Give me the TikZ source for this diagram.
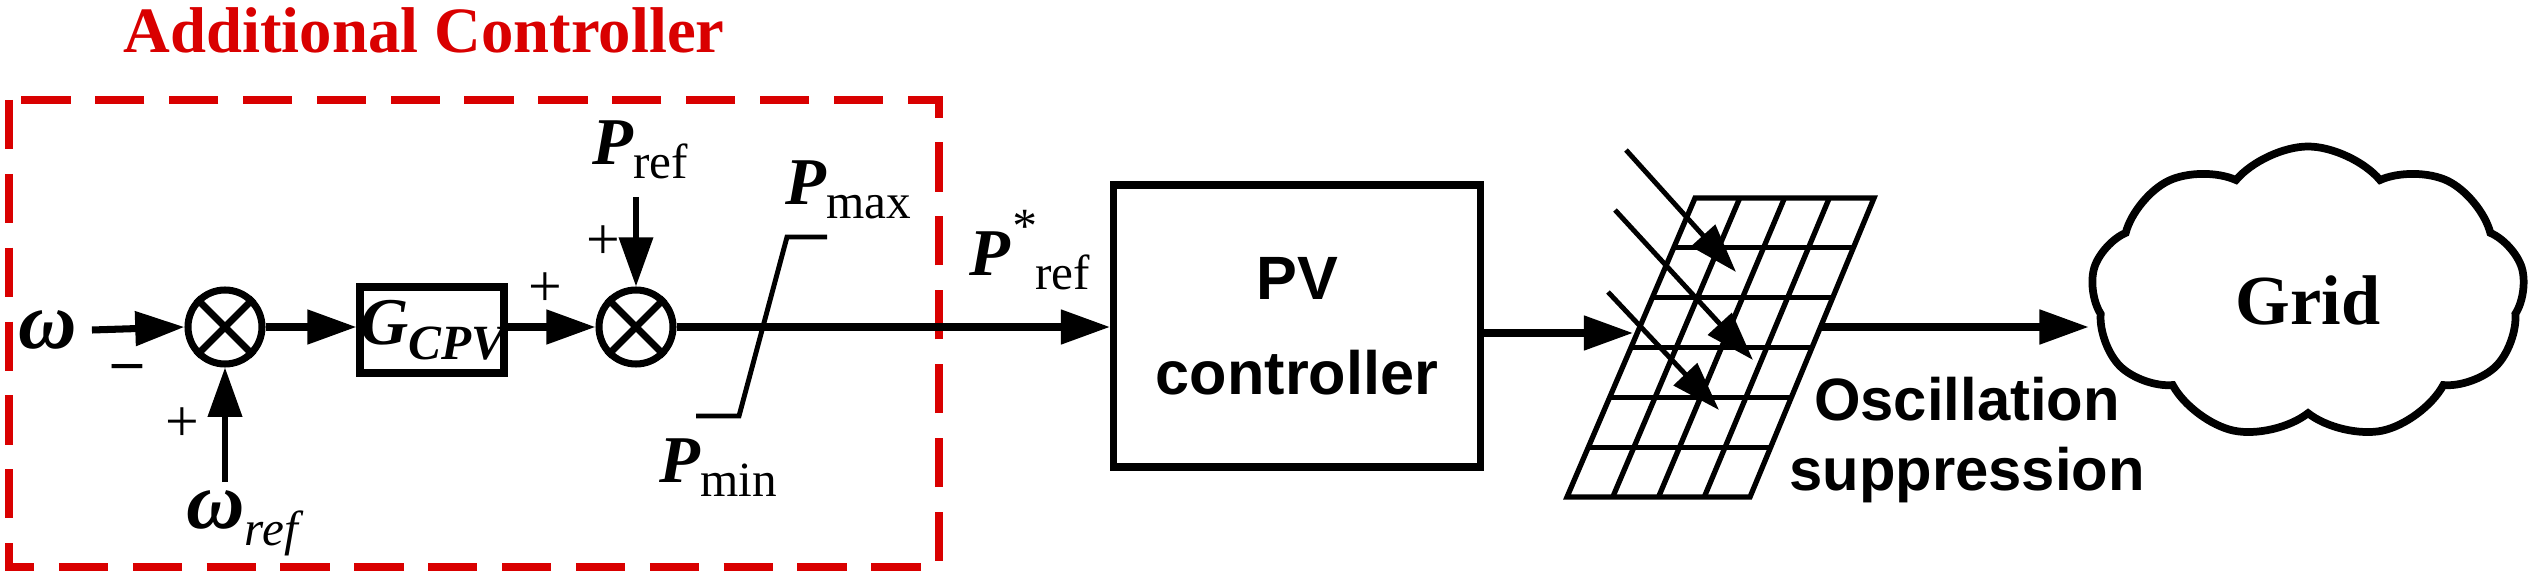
\documentclass[tikz,border=0pt]{standalone}
\usepackage{fontspec}
\setmainfont{Liberation Serif}
\newfontfamily\sansbf{Liberation Sans}
\usetikzlibrary{arrows.meta,shapes.symbols,calc}
\tikzstyle{sumnode} = [circle, draw, line width=2pt, minimum size=74\pxu, inner sep=0pt]
\tikzstyle{sig} = [line width=2pt, -{Triangle[length=14pt,width=9.5pt]}]
\tikzstyle{lbl} = [font=\fontsize{19}{19}\selectfont\bfseries\itshape, inner sep=0pt]
\newlength{\pxu}\setlength{\pxu}{0.01cm}
\newcommand{\Sub}[1]{\raisebox{-0.45ex}{\fontsize{14}{14}\selectfont\mdseries\upshape #1}}
\begin{document}
\begin{tikzpicture}[x=0.01cm,y=-0.01cm]
      \useasboundingbox (0,0) rectangle (2531,582);
      % additional controller
      \draw[red!85!black, line width=2pt, dash pattern=on 14pt off 7pt] (9,100) rectangle (939,567);
      \node[red!85!black, font=\fontsize{18.4}{18.4}\selectfont\bfseries] (Title) at (424,30) {Additional Controller};
      \node[lbl, font=\fontsize{23}{23}\selectfont\bfseries\itshape] (Omega) at (48,330) {ω};
      \node[sumnode] (SumOmega) at (225,327) {};
      \node[sumnode] (SumP) at (636,327) {};
      \foreach \s in {SumOmega,SumP}
        \draw[line width=2pt] (\s.north west) -- (\s.south east) (\s.north east) -- (\s.south west);
      \node[draw, line width=2pt, minimum width=130\pxu, minimum height=86\pxu, inner sep=0pt] (GCPV) at (432,330)
        {\fontsize{19}{19}\selectfont\bfseries\itshape G\raisebox{-0.5ex}{\fontsize{14}{14}\selectfont CPV}};
      \coordinate (OmegaIn) at (225,482);
      \coordinate (PrefIn) at (636,197);
      \node[lbl, font=\fontsize{23}{23}\selectfont\bfseries\itshape] (OmegaRef) at (242,523) {ω\Sub{\itshape ref}};
      \node[lbl] (Pref) at (640,150) {P\Sub{ref}};
      \node[font=\fontsize{17}{17}\selectfont] at (128,372) {\textbf{--}};
      \node[font=\fontsize{17}{17}\selectfont] at (182,425) {+};
      \node[font=\fontsize{17}{17}\selectfont] at (545,290) {+};
      \node[font=\fontsize{17}{17}\selectfont] at (603,243) {+};
      \draw[sig] (Omega.east) ++(14,0) coordinate (OmegaOut) -- (SumOmega.west);
      \draw[line width=1.6pt, -{Triangle[length=14pt,width=9.5pt]}] (OmegaIn) -- (SumOmega.south);
      \draw[sig] (SumOmega.east) -- (GCPV.west |- SumOmega.east);
      \draw[sig] (GCPV.east |- SumP.west) -- (SumP.west);
      \draw[line width=1.6pt, -{Triangle[length=14pt,width=9.5pt]}] (PrefIn) -- (SumP.north);
      % limiter
      \draw[line width=1.4pt] (696,416) -- (739,416) -- (787,237) -- (827,237);
      \node[lbl] (Pmax) at (848,190) {P\Sub{max}};
      \node[lbl] (Pmin) at (718,468) {P\Sub{min}};
      % PV controller
      \node[draw, line width=2pt, minimum width=367\pxu, minimum height=282\pxu, align=center,
            font=\fontsize{17.4}{27}\sansbf\bfseries] (PVController) at (1297,326) {PV\\controller};
      \node[lbl] (PrefStar) at (1030,250) {P\raisebox{1.1ex}{\fontsize{14}{14}\selectfont\mdseries *}\Sub{ref}};
      \draw[sig] (SumP.east) -- (PVController.west |- SumP.east);
      % PV panel
      \coordinate (PanelTL) at (1695,198);
      \coordinate (PanelTR) at (1874,198);
      \coordinate (PanelBR) at (1750,497);
      \coordinate (PanelBL) at (1567,497);
      \draw[line width=1.5pt] (PanelTL) -- (PanelTR) -- (PanelBR) -- (PanelBL) -- cycle;
      \foreach \i in {1,...,5}
        \draw[line width=1.5pt] ($(PanelTL)!\i/6!(PanelBL)$) -- ($(PanelTR)!\i/6!(PanelBR)$);
      \foreach \j in {1,2,3}
        \draw[line width=1.5pt] ($(PanelTL)!\j/4!(PanelTR)$) -- ($(PanelBL)!\j/4!(PanelBR)$);
      \coordinate (PanelIn) at (1633,333);
      \coordinate (PanelOut) at (1819,327);
      \draw[sig] (PVController.east |- PanelIn) -- (PanelIn);
      \foreach \a/\b/\c/\d in {1626/150/1736/272, 1615/210/1753/360, 1608/292/1719/410}
        \draw[line width=1.4pt, -{Triangle[length=14pt,width=9pt]}] (\a,\b) -- (\c,\d);
      \node[font=\fontsize{17}{20}\sansbf\bfseries, align=center] (Osc) at (1967,440) {Oscillation\\suppression};
      % grid
      \node[cloud, draw, line width=2.2pt, cloud puffs=9, cloud puff arc=100, aspect=1.4,
            minimum width=434\pxu, minimum height=293\pxu, inner sep=0pt] (Grid) at (2308,293) {};
      \node[font=\fontsize{20}{20}\selectfont\bfseries] at (2308,300) {Grid};
      \draw[sig] (PanelOut) -- (Grid.west |- PanelOut);
    \end{tikzpicture}
\end{document}
